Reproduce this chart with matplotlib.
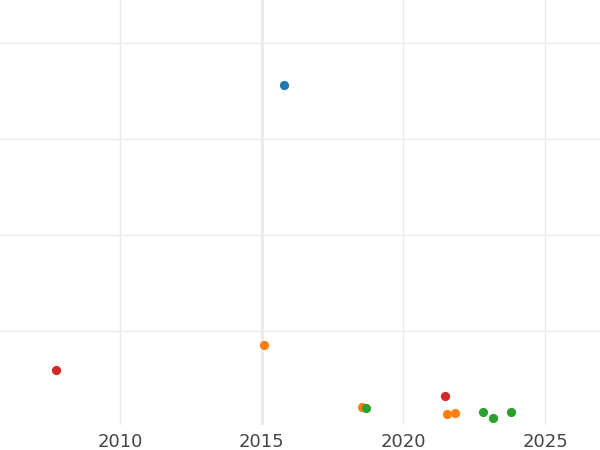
import matplotlib
matplotlib.use("Agg")
import matplotlib.pyplot as plt

# Data (x = year, y = value in arbitrary units)
blue_x = [2015.78]
blue_y = [35.6]
orange_x = [2015.07, 2018.55, 2021.55, 2021.83]
orange_y = [8.54, 2.1, 1.33, 1.5]
green_x = [2018.69, 2022.82, 2023.17, 2023.81]
green_y = [2.0, 1.58, 0.95, 1.55]
red_x = [2007.74, 2021.48]
red_y = [5.94, 3.26]

xticks = [2010, 2015, 2020, 2025]
yticks = [10, 20, 30, 40]

fig = plt.figure(figsize=(6, 4.5), dpi=100)
ax = fig.add_axes([0, 25 / 450, 1, 425 / 450])
ax.set_xlim(2005.76, 2026.94)
ax.set_ylim(0.21, 44.48)

ax.set_xticks(xticks)
ax.set_xticklabels([str(t) for t in xticks])
ax.set_yticks(yticks)
ax.set_yticklabels([])
ax.tick_params(axis="both", length=0)
ax.tick_params(axis="x", pad=6, labelsize=13, labelcolor="#444444")
for s in ax.spines.values():
    s.set_visible(False)

ax.set_axisbelow(True)
ax.grid(True, color="#ebebeb", linewidth=1)
# 2015 gridline appears heavier in the reference
ax.axvline(2015, color="#e6e6e6", linewidth=1.8, zorder=0)

ms = 44
ax.scatter(blue_x, blue_y, s=ms, color="#1f77b4", zorder=3, linewidths=0)
ax.scatter(orange_x, orange_y, s=ms, color="#ff7f0e", zorder=3, linewidths=0)
ax.scatter(green_x, green_y, s=ms, color="#2ca02c", zorder=4, linewidths=0)
ax.scatter(red_x, red_y, s=ms, color="#d62728", zorder=3, linewidths=0)

fig.savefig("out.png", dpi=100)
